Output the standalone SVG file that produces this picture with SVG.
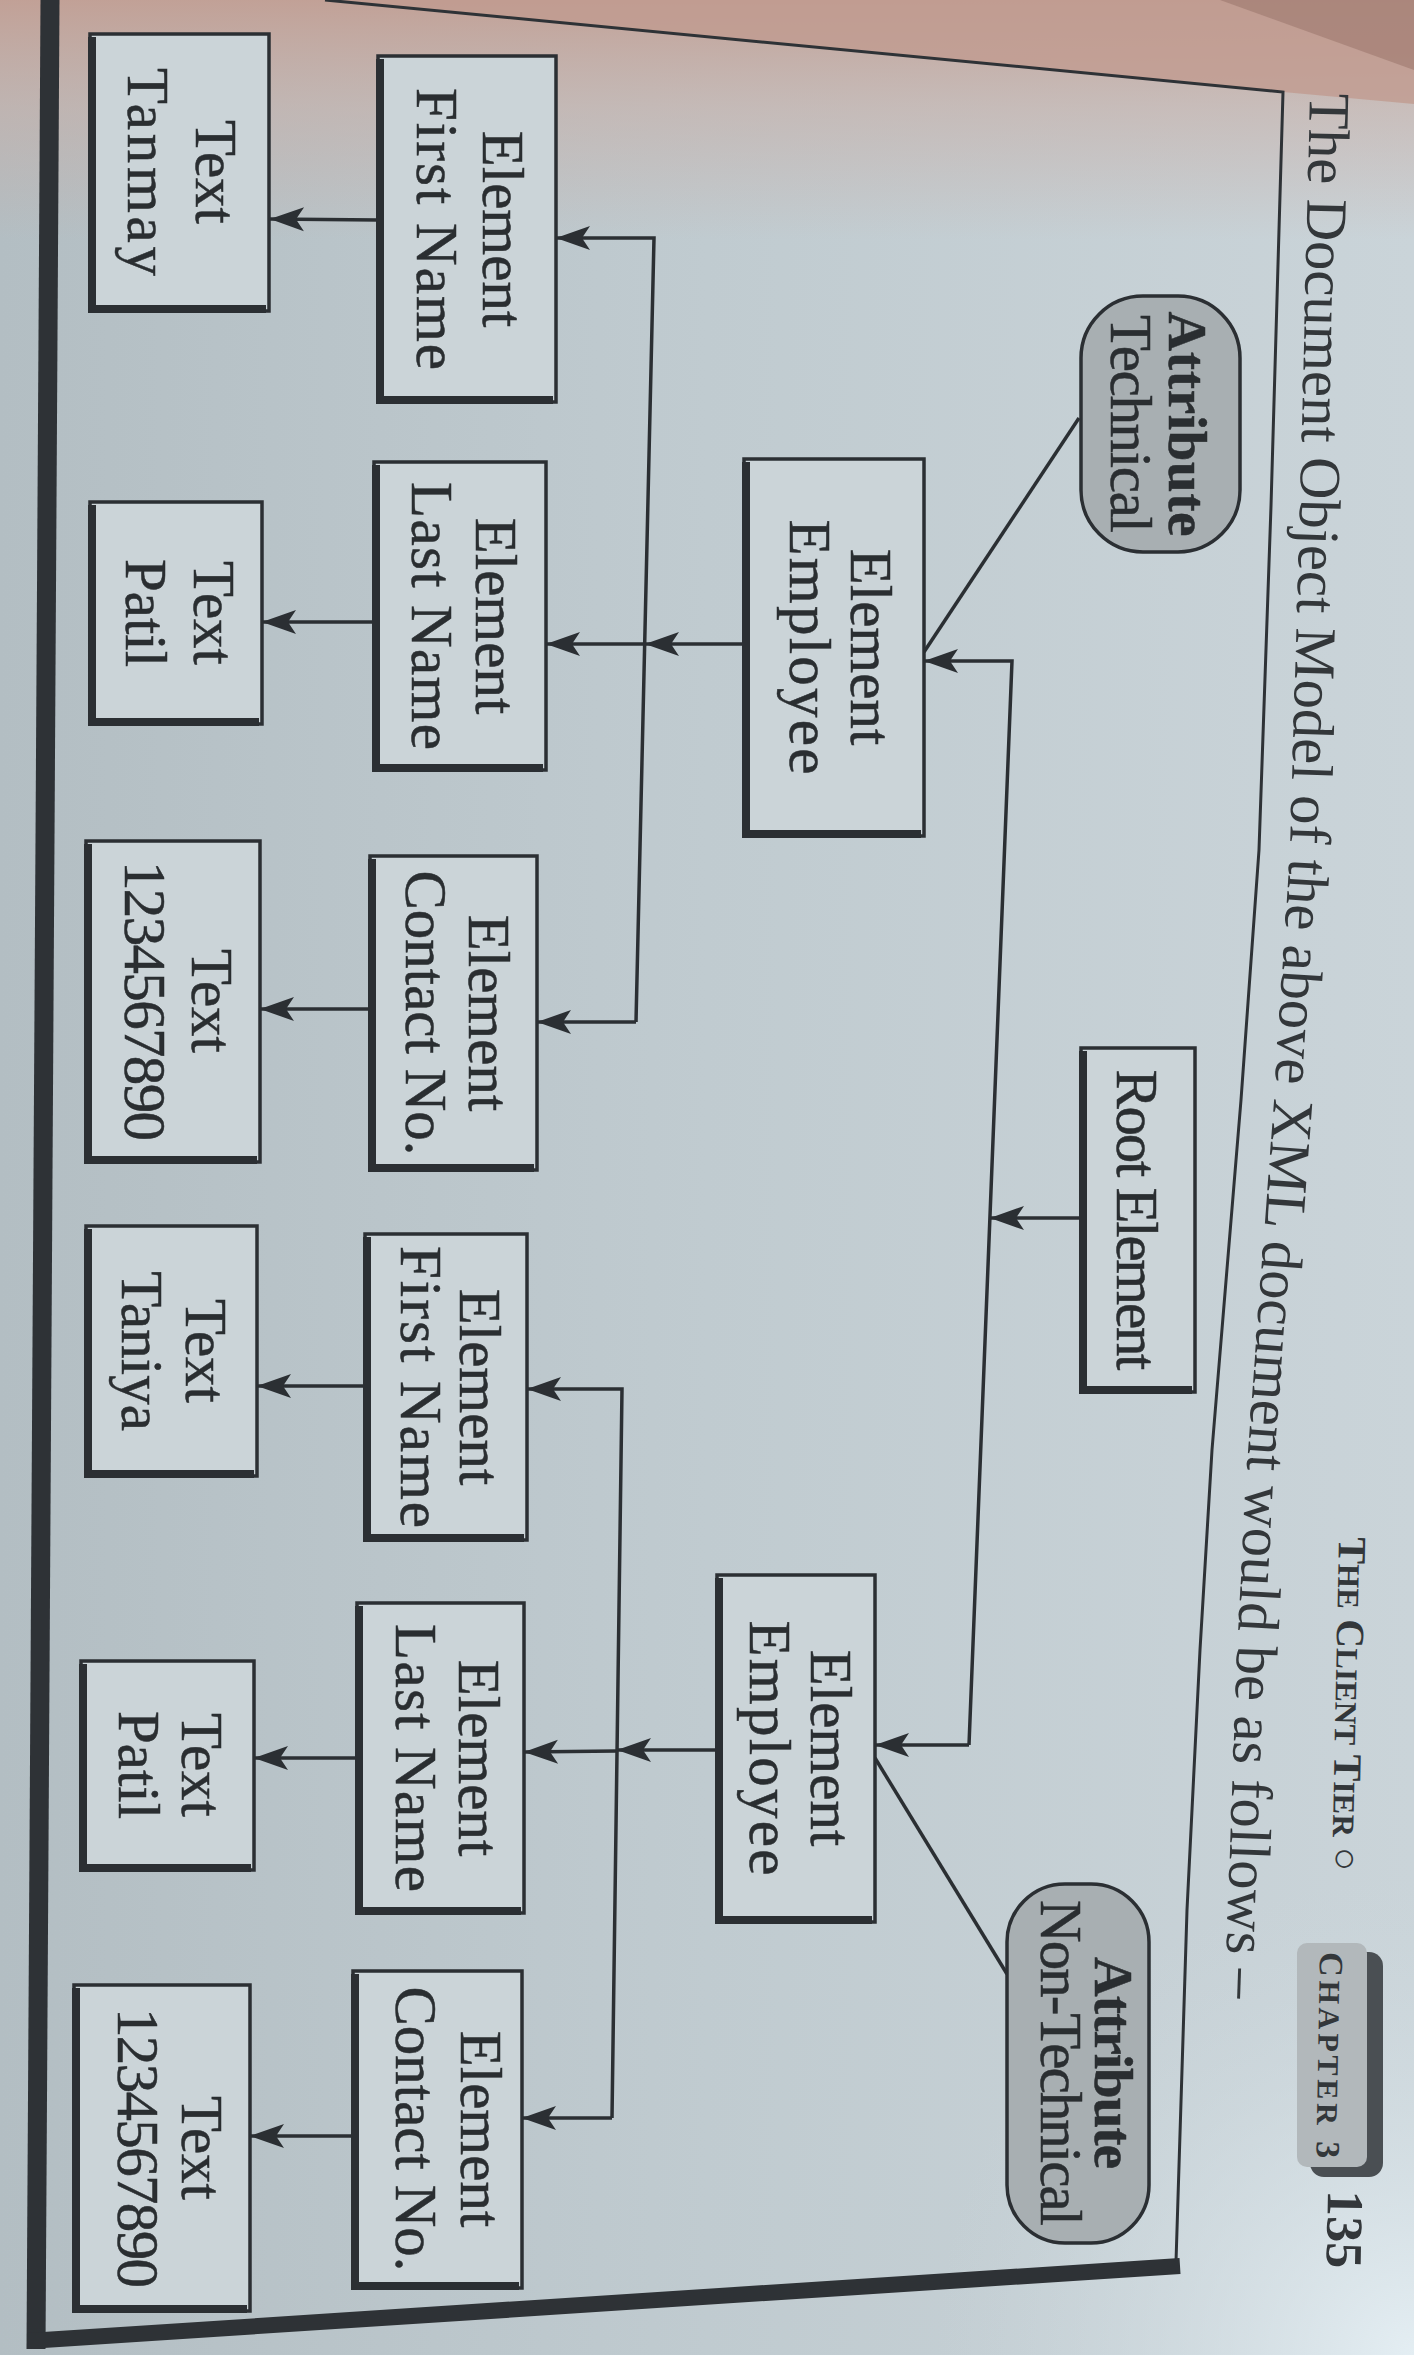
<svg xmlns="http://www.w3.org/2000/svg" width="1414" height="2355" viewBox="0 0 1414 2355">
<defs>
<style>
.bx{fill:#cbd4d8;stroke:#2b2f33;stroke-width:3.5}
.sh{fill:none;stroke:#2b2f33;stroke-width:8}
.pill{fill:#a8afb2;stroke:#2b2f33;stroke-width:3.5}
.t{font-family:"Liberation Serif","DejaVu Serif",serif;font-size:59px;fill:#2a2e31;stroke:#2a2e31;stroke-width:0.5;text-anchor:middle}
.tb{font-weight:bold;font-size:55px}
.cn{fill:none;stroke:#2b2f33;stroke-width:3.5}
.ca{fill:none;stroke:#2b2f33;stroke-width:3.5;marker-end:url(#ah)}
.hd{font-family:"Liberation Serif","DejaVu Serif",serif;fill:#33373a}
.fr{fill:none;stroke:#2e3236}
</style>
<marker id="ah" markerUnits="userSpaceOnUse" viewBox="0 0 38 28" markerWidth="38" markerHeight="28" refX="36" refY="14" orient="auto">
<path d="M36,14 L2,2 L10,14 L2,26 Z" fill="#2b2f33"/>
</marker>
<path id="hdpath" d="M1310,93 L1300,506 L1290,850 L1274,1100 L1248,1450 L1237,1650 L1222,2080"/>
<linearGradient id="bg" x1="0" y1="0" x2="1" y2="0">
<stop offset="0" stop-color="#b3bec3"/><stop offset="0.5" stop-color="#c0cbd0"/><stop offset="1" stop-color="#cad4d9"/>
</linearGradient>
<linearGradient id="warm" gradientUnits="userSpaceOnUse" x1="0" y1="0" x2="0" y2="240">
<stop offset="0" stop-color="#c29f94" stop-opacity="0.95"/><stop offset="0.45" stop-color="#c8aca3" stop-opacity="0.55"/><stop offset="1" stop-color="#c8aca3" stop-opacity="0"/>
</linearGradient>
<radialGradient id="glare" gradientUnits="userSpaceOnUse" cx="1414" cy="2355" r="480">
<stop offset="0" stop-color="#e4eef3"/><stop offset="1" stop-color="#cdd8dd" stop-opacity="0"/>
</radialGradient>
</defs>

<g id="background">
<rect x="0" y="0" width="1414" height="2355" fill="url(#bg)"/>
<rect x="0" y="0" width="1414" height="240" fill="url(#warm)"/>
<polygon points="325,0 1414,0 1414,104 1283,92" fill="#c09b90" opacity="0.8"/>
<polygon points="1220,0 1414,0 1414,70" fill="#9c786e" opacity="0.6"/>
<rect x="0" y="1500" width="1414" height="855" fill="url(#glare)"/>
</g>

<g id="frame">
<polyline class="fr" stroke-width="3" points="325,0 1283,92 1271,506 1259,850 1241,1100 1212,1450 1200,1650 1187,1910 1176,2262"/>
<line class="fr" stroke-width="19" x1="50" y1="0" x2="36" y2="2349"/>
<line class="fr" stroke-width="16" x1="28" y1="2341" x2="1180" y2="2266"/>
</g>

<g id="connectors">
<path class="ca" d="M1081,1218 L990,1218"/>
<path class="ca" d="M969,1745 L1012,661 L924,661"/>
<path class="ca" d="M969,1745 L875,1745"/>
<path class="cn" d="M1079,418 L924,652"/>
<path class="cn" d="M875,1758 L1007,1974"/>
<path class="ca" d="M744,644 L645,644"/>
<path class="ca" d="M645,644 L546,644"/>
<path class="ca" d="M636,1022 L654,238 L556,238"/>
<path class="ca" d="M636,1022 L537,1022"/>
<path class="ca" d="M717,1750 L617,1750"/>
<path class="ca" d="M617,1751 L524,1752"/>
<path class="ca" d="M612,2118 L622,1389 L527,1389"/>
<path class="ca" d="M612,2118 L522,2118"/>
<path class="ca" d="M378,220 L270,219"/>
<path class="ca" d="M374,622 L262,622"/>
<path class="ca" d="M370,1009 L260,1009"/>
<path class="ca" d="M365,1386 L257,1386"/>
<path class="ca" d="M357,1758 L254,1758"/>
<path class="ca" d="M353,2136 L250,2136"/>
</g>

<g id="n-text-tanmay">
<rect class="bx" x="90" y="34" width="179" height="277"/>
<path class="sh" d="M92,37 V309 H266"/>
<text class="t" transform="translate(196,172) rotate(90)">Text</text>
<text class="t" transform="translate(128,172) rotate(90)" textLength="208">Tanmay</text>
</g>

<g id="n-firstname-1">
<rect class="bx" x="378" y="56" width="178" height="346"/>
<path class="sh" d="M380,59 V400 H553"/>
<text class="t" transform="translate(483,229) rotate(90)">Element</text>
<text class="t" transform="translate(417,229) rotate(90)" textLength="282">First Name</text>
</g>

<g id="n-lastname-1">
<rect class="bx" x="374" y="462" width="172" height="308"/>
<path class="sh" d="M376,465 V768 H543"/>
<text class="t" transform="translate(476,616) rotate(90)">Element</text>
<text class="t" transform="translate(412,616) rotate(90)" textLength="268">Last Name</text>
</g>

<g id="n-text-patil-1">
<rect class="bx" x="90" y="502" width="172" height="222"/>
<path class="sh" d="M92,505 V722 H259"/>
<text class="t" transform="translate(194,613) rotate(90)">Text</text>
<text class="t" transform="translate(126,613) rotate(90)">Patil</text>
</g>

<g id="n-employee-1">
<rect class="bx" x="744" y="459" width="180" height="377"/>
<path class="sh" d="M746,462 V834 H921"/>
<text class="t" transform="translate(851,647) rotate(90)">Element</text>
<text class="t" transform="translate(790,647) rotate(90)" textLength="255">Employee</text>
</g>

<g id="n-attr-technical">
<rect class="pill" x="1081" y="296" width="159" height="256" rx="62" ry="62"/>
<text class="t tb" transform="translate(1169,424) rotate(90)" textLength="225">Attribute</text>
<text class="t" transform="translate(1111,424) rotate(90)" textLength="218">Technical</text>
</g>

<g id="n-contact-1">
<rect class="bx" x="370" y="856" width="167" height="314"/>
<path class="sh" d="M372,859 V1168 H534"/>
<text class="t" transform="translate(469,1013) rotate(90)">Element</text>
<text class="t" transform="translate(406,1013) rotate(90)">Contact No.</text>
</g>

<g id="n-text-number-1">
<rect class="bx" x="86" y="841" width="174" height="321"/>
<path class="sh" d="M88,844 V1160 H257"/>
<text class="t" transform="translate(192,1001) rotate(90)">Text</text>
<text class="t" transform="translate(125,1001) rotate(90)" textLength="280">1234567890</text>
</g>

<g id="n-root">
<rect class="bx" x="1081" y="1048" width="114" height="344"/>
<path class="sh" d="M1083,1051 V1390 H1192"/>
<text class="t" transform="translate(1117,1220) rotate(90)" textLength="301">Root Element</text>
</g>

<g id="n-firstname-2">
<rect class="bx" x="365" y="1234" width="162" height="306"/>
<path class="sh" d="M367,1237 V1538 H524"/>
<text class="t" transform="translate(460,1387) rotate(90)">Element</text>
<text class="t" transform="translate(401,1387) rotate(90)" textLength="282">First Name</text>
</g>

<g id="n-text-taniya">
<rect class="bx" x="86" y="1226" width="171" height="250"/>
<path class="sh" d="M88,1229 V1474 H254"/>
<text class="t" transform="translate(186,1351) rotate(90)">Text</text>
<text class="t" transform="translate(122,1351) rotate(90)">Taniya</text>
</g>

<g id="n-employee-2">
<rect class="bx" x="717" y="1575" width="158" height="347"/>
<path class="sh" d="M719,1578 V1920 H872"/>
<text class="t" transform="translate(811,1748) rotate(90)">Element</text>
<text class="t" transform="translate(750,1748) rotate(90)" textLength="255">Employee</text>
</g>

<g id="n-attr-nontechnical">
<rect class="pill" x="1007" y="1884" width="142" height="359" rx="58" ry="58"/>
<text class="t tb" transform="translate(1095,2063) rotate(90)" textLength="212">Attribute</text>
<text class="t" transform="translate(1041,2063) rotate(90)" textLength="326">Non-Technical</text>
</g>

<g id="n-lastname-2">
<rect class="bx" x="357" y="1603" width="167" height="310"/>
<path class="sh" d="M359,1606 V1911 H521"/>
<text class="t" transform="translate(459,1758) rotate(90)">Element</text>
<text class="t" transform="translate(396,1758) rotate(90)" textLength="268">Last Name</text>
</g>

<g id="n-text-patil-2">
<rect class="bx" x="81" y="1661" width="173" height="209"/>
<path class="sh" d="M83,1664 V1868 H251"/>
<text class="t" transform="translate(182,1765) rotate(90)">Text</text>
<text class="t" transform="translate(119,1765) rotate(90)">Patil</text>
</g>

<g id="n-contact-2">
<rect class="bx" x="353" y="1971" width="169" height="317"/>
<path class="sh" d="M355,1974 V2286 H519"/>
<text class="t" transform="translate(461,2129) rotate(90)">Element</text>
<text class="t" transform="translate(396,2129) rotate(90)">Contact No.</text>
</g>

<g id="n-text-number-2">
<rect class="bx" x="74" y="1985" width="176" height="326"/>
<path class="sh" d="M76,1988 V2309 H247"/>
<text class="t" transform="translate(182,2148) rotate(90)">Text</text>
<text class="t" transform="translate(118,2148) rotate(90)" textLength="280">1234567890</text>
</g>

<g id="header">
<text class="hd" font-size="58.5"><textPath href="#hdpath">The Document Object Model of the above XML document would be as follows –</textPath></text>
<text class="hd" font-weight="bold" transform="translate(1339,1537) rotate(91.2)" textLength="334"><tspan font-size="40">T</tspan><tspan font-size="31">HE</tspan><tspan font-size="40"> C</tspan><tspan font-size="31">LIENT</tspan><tspan font-size="40"> T</tspan><tspan font-size="31">IER</tspan><tspan font-size="40"> ○</tspan></text>
<rect x="1310" y="1952" width="73" height="225" rx="14" ry="14" fill="#4a4f53"/>
<rect x="1297" y="1943" width="70" height="224" rx="10" ry="10" fill="#b2b8bb"/>
<text class="hd" font-weight="bold" transform="translate(1320,1952) rotate(91)" textLength="206"><tspan font-size="34">C</tspan><tspan font-size="30">HAPTER</tspan><tspan font-size="34"> 3</tspan></text>
<text class="hd" font-weight="bold" font-size="52" transform="translate(1328,2190) rotate(91)" textLength="78">135</text>
</g>
</svg>
